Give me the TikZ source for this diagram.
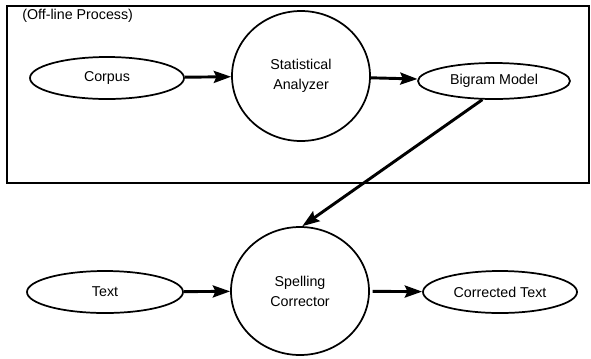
\documentclass[tikz,border=0pt]{standalone}
\usepackage{fontspec}
\setmainfont{Liberation Sans}
\usetikzlibrary{shapes.geometric,arrows.meta}
\begin{document}
\begin{tikzpicture}[x=0.75pt,y=-0.75pt,
  every node/.style={font=\fontsize{10.7}{15}\selectfont},
  oval/.style={draw,ellipse,line width=1.3pt,inner sep=0pt},
  proc/.style={draw,ellipse,line width=1.3pt,inner sep=0pt,align=center,
    minimum width=103.5pt,minimum height=97.5pt},
  flow/.style={line width=2.2pt,-{Stealth[length=13pt,width=9pt,inset=2pt]}}]
\useasboundingbox (0,0) rectangle (591,358);
\draw[line width=1.2pt] (7,6) rectangle (589,183);
\node[anchor=west,inner sep=0pt] (label) at (22,16) {(Off-line Process)};
\node[oval,minimum width=115.5pt,minimum height=31.5pt] (corpus) at (107,78) {Corpus};
\node[proc] (stat) at (301,76) {Statistical\\Analyzer};
\node[oval,minimum width=114pt,minimum height=27pt] (bigram) at (494,81) {Bigram Model};
\node[oval,minimum width=117pt,minimum height=31.5pt] (text) at (105,292) {Text};
\node[proc,minimum height=96pt] (spell) at (300,291) {Spelling\\Corrector};
\node[oval,minimum width=115.5pt,minimum height=31.5pt] (corr) at (500,292) {Corrected Text};
\draw[flow] (corpus) -- (stat);
\draw[flow] (stat) -- (bigram);
\draw[flow] (bigram.238) -- (spell.88);
\draw[flow] (text) -- (spell);
\draw[flow,shorten <=2pt] (spell) -- (corr);
\end{tikzpicture}
\end{document}
